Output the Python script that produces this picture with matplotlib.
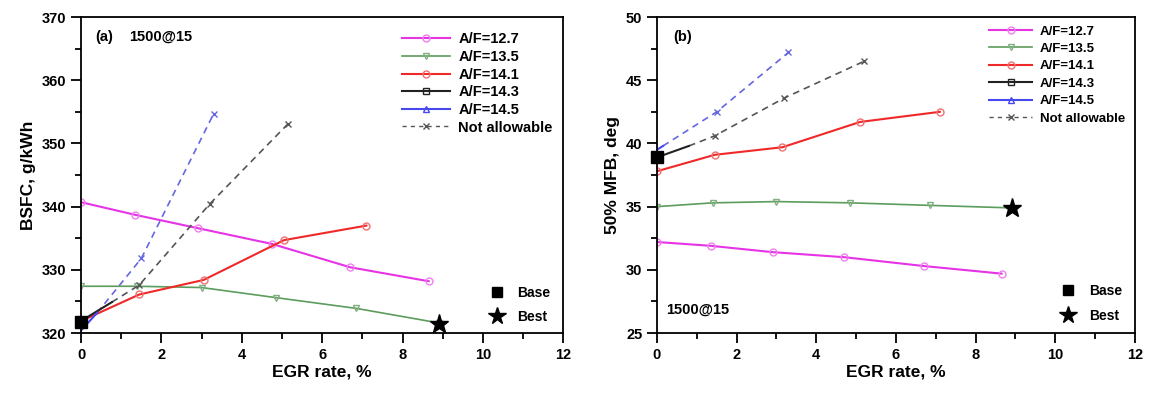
import numpy as np
import matplotlib
matplotlib.use("Agg")
import matplotlib.pyplot as plt
from matplotlib.lines import Line2D
from matplotlib.ticker import MultipleLocator

plt.rcParams['font.family'] = ['Liberation Sans', 'DejaVu Sans']
plt.rcParams['font.weight'] = 'bold'

# ---- data: panel (a) BSFC, g/kWh ----
egr_127_a = [0, 1.35, 2.9, 4.75, 6.7, 8.65]
bsfc_127 = [340.7, 338.7, 336.6, 334.1, 330.4, 328.2]
egr_135_a = [0, 1.4, 3.0, 4.85, 6.85, 8.9]
bsfc_135 = [327.4, 327.4, 327.2, 325.6, 323.9, 321.6]
egr_141_a = [0, 1.45, 3.05, 5.05, 7.1]
bsfc_141 = [321.9, 326.1, 328.4, 334.7, 337.0]
egr_143_a = [0, 0.77]
bsfc_143 = [321.9, 324.9]
egr_143_na_a = [0.77, 1.45, 3.2, 5.15]
bsfc_143_na = [324.9, 327.6, 340.4, 353.1]
egr_145_a = [0, 0.4]
bsfc_145 = [320.4, 323.2]
egr_145_na_a = [0.4, 1.5, 3.3]
bsfc_145_na = [323.2, 331.8, 354.7]
base_a = (0, 321.8)
best_a = (8.9, 321.5)

# ---- data: panel (b) 50% MFB, deg ----
egr_127_b = [0, 1.35, 2.9, 4.7, 6.7, 8.65]
mfb_127 = [32.2, 31.9, 31.4, 31.0, 30.3, 29.7]
egr_135_b = [0, 1.4, 3.0, 4.85, 6.85, 8.9]
mfb_135 = [35.0, 35.3, 35.4, 35.3, 35.1, 34.9]
egr_141_b = [0, 1.45, 3.15, 5.1, 7.1]
mfb_141 = [37.8, 39.1, 39.7, 41.7, 42.5]
egr_143_b = [0, 0.8]
mfb_143 = [38.9, 39.8]
egr_143_na_b = [0.8, 1.45, 3.2, 5.2]
mfb_143_na = [39.8, 40.6, 43.6, 46.5]
egr_145_b = [0, 0.15]
mfb_145 = [39.5, 39.8]
egr_145_na_b = [0.15, 1.5, 3.3]
mfb_145_na = [39.8, 42.5, 47.2]
base_b = (0, 38.9)
best_b = (8.9, 34.9)

labels = ['A/F=12.7', 'A/F=13.5', 'A/F=14.1', 'A/F=14.3', 'A/F=14.5', 'Not allowable']

c_mag = '#e633e6'
c_grn = '#5c9c5c'
c_red = '#f02828'
c_blk = '#222222'
c_blu = '#4848f0'
c_na_k = '#555555'
c_na_b = '#6666e0'

fig = plt.figure(figsize=(11.51, 3.96), dpi=100)
ax_a = fig.add_axes([0.0704, 0.159, 0.419, 0.798])
ax_b = fig.add_axes([0.5708, 0.159, 0.4153, 0.798])


def draw(ax, d):
    ms = 5
    ax.plot(d['x127'], d['y127'], color=c_mag, lw=1.5, marker='o', ms=ms, mfc='none', mec='#f080f0')
    ax.plot(d['x135'], d['y135'], color=c_grn, lw=1.2, marker='v', ms=ms, mfc='none', mec='#80b080')
    ax.plot(d['x141'], d['y141'], color=c_red, lw=1.5, marker='o', ms=ms, mfc='none', mec='#f07070')
    ax.plot(d['x143n'], d['y143n'], color=c_na_k, lw=1.2, ls=(0, (4, 3)), marker='x', ms=ms,
            markevery=list(range(1, len(d['x143n']))))
    ax.plot(d['x145n'], d['y145n'], color=c_na_b, lw=1.2, ls=(0, (4, 3)), marker='x', ms=ms,
            markevery=list(range(1, len(d['x145n']))))
    ax.plot(d['x143'], d['y143'], color=c_blk, lw=1.5)
    ax.plot(d['x145'], d['y145'], color=c_blu, lw=1.5)
    ax.plot([d['base'][0]], [d['base'][1]], 's', color='black', ms=8, clip_on=False, zorder=5)
    ax.plot([d['best'][0]], [d['best'][1]], '*', color='black', ms=14, clip_on=False, zorder=5)

    ax.set_xlim(0, 12)
    ax.xaxis.set_major_locator(MultipleLocator(2))
    ax.xaxis.set_minor_locator(MultipleLocator(1))
    ax.tick_params(which='both', direction='out', top=False, right=False, width=1.3, labelsize=10.5)
    ax.tick_params(which='major', length=7)
    ax.tick_params(which='minor', length=4)
    for s in ax.spines.values():
        s.set_linewidth(1.3)
    ax.set_xlabel('EGR rate, %', fontsize=12.5, fontweight='bold', labelpad=2)

    handles = [
        Line2D([], [], color=c_mag, lw=1.5, marker='o', ms=ms, mfc='none', mec='#f080f0'),
        Line2D([], [], color=c_grn, lw=1.2, marker='v', ms=ms, mfc='none', mec='#80b080'),
        Line2D([], [], color=c_red, lw=1.5, marker='o', ms=ms, mfc='none', mec='#f07070'),
        Line2D([], [], color=c_blk, lw=1.5, marker='s', ms=ms, mfc='none'),
        Line2D([], [], color=c_blu, lw=1.5, marker='^', ms=ms, mfc='none'),
        Line2D([], [], color=c_na_k, lw=1.0, ls=(0, (3, 3)), marker='x', ms=ms),
    ]
    leg = ax.legend(handles, labels, loc='upper right', bbox_to_anchor=d['leg_anchor'], frameon=False,
                    fontsize=d['leg_fs'], handlelength=3.3, handletextpad=0.55,
                    labelspacing=d['leg_sp'], borderaxespad=0)
    ax.add_artist(leg)
    h2 = [Line2D([], [], ls='none', marker='s', color='black', ms=7),
          Line2D([], [], ls='none', marker='*', color='black', ms=13)]
    ax.legend(h2, ['Base', 'Best'], loc='lower right', bbox_to_anchor=d['leg2_anchor'], frameon=False,
              fontsize=10, handlelength=1.2, handletextpad=0.9, labelspacing=0.75, borderaxespad=0)


draw(ax_a, dict(x127=egr_127_a, y127=bsfc_127, x135=egr_135_a, y135=bsfc_135,
                x141=egr_141_a, y141=bsfc_141, x143=egr_143_a, y143=bsfc_143,
                x143n=egr_143_na_a, y143n=bsfc_143_na, x145=egr_145_a, y145=bsfc_145,
                x145n=egr_145_na_a, y145n=bsfc_145_na, base=base_a, best=best_a,
                leg_fs=10.5, leg_sp=0.25,
                leg_anchor=(0.99, 0.97), leg2_anchor=(0.985, 0.01)))
ax_a.set_ylim(320, 370)
ax_a.yaxis.set_major_locator(MultipleLocator(10))
ax_a.yaxis.set_minor_locator(MultipleLocator(5))
ax_a.set_ylabel('BSFC, g/kWh', fontsize=12.5, fontweight='bold', labelpad=4)
ax_a.text(0.03, 0.925, '(a)', transform=ax_a.transAxes, fontsize=10.5, fontweight='bold')
ax_a.text(0.1, 0.925, '1500@15', transform=ax_a.transAxes, fontsize=10.5, fontweight='bold')

draw(ax_b, dict(x127=egr_127_b, y127=mfb_127, x135=egr_135_b, y135=mfb_135,
                x141=egr_141_b, y141=mfb_141, x143=egr_143_b, y143=mfb_143,
                x143n=egr_143_na_b, y143n=mfb_143_na, x145=egr_145_b, y145=mfb_145,
                x145n=egr_145_na_b, y145n=mfb_145_na, base=base_b, best=best_b,
                leg_fs=9.5, leg_sp=0.39,
                leg_anchor=(0.99, 0.99), leg2_anchor=(0.985, 0.015)))
ax_b.set_ylim(25, 50)
ax_b.yaxis.set_major_locator(MultipleLocator(5))
ax_b.yaxis.set_minor_locator(MultipleLocator(2.5))
ax_b.set_ylabel('50% MFB, deg', fontsize=12.5, fontweight='bold', labelpad=4)
ax_b.text(0.035, 0.925, '(b)', transform=ax_b.transAxes, fontsize=10.5, fontweight='bold')
ax_b.text(0.02, 0.06, '1500@15', transform=ax_b.transAxes, fontsize=10.5, fontweight='bold')

fig.savefig('out.png', dpi=100)
